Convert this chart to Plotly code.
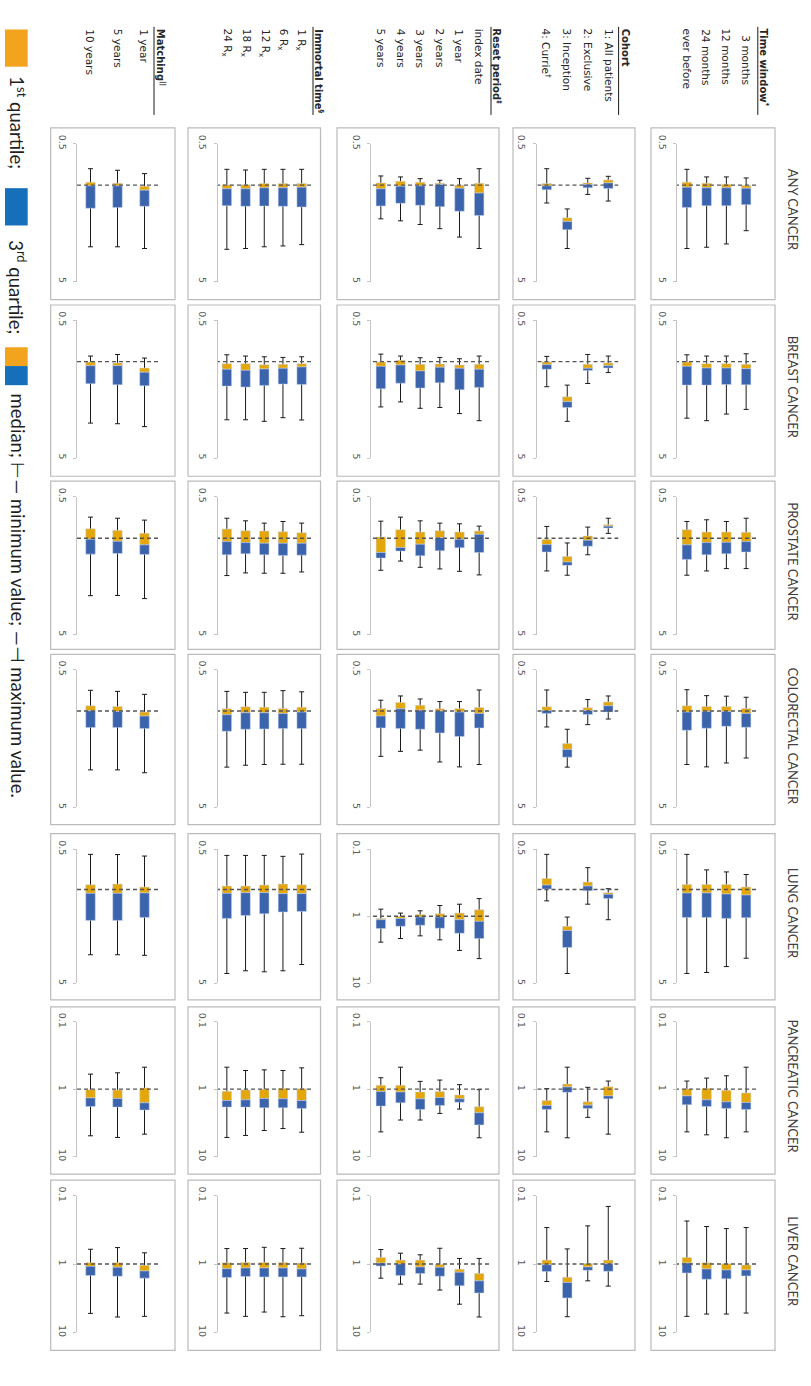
import math
import plotly.graph_objects as go

# ---------------------------------------------------------------------------
# Hazard ratios summarised across analysis variants (min, Q1, median, Q3, max)
# Value order inside every list:
#   time window (4) | cohort (4) | reset period (6) | immortal time (5) | matching (3)
# ---------------------------------------------------------------------------
CANCERS = ["ANY CANCER", "BREAST CANCER", "PROSTATE CANCER", "COLORECTAL CANCER",
           "LUNG CANCER", "PANCREATIC CANCER", "LIVER CANCER"]

GROUP_TITLES = ["Time window<sup>*</sup>", "Cohort", "Reset period<sup>‡</sup>",
                "Immortal time<sup>§</sup>", "Matching<sup>||</sup>"]
TIME_WINDOW = ["\u20073 months", "12 months", "24 months", "ever before"]
COHORT = ["1: All patients", "2: Exclusive", "3: Inception", "4: Currie<sup>†</sup>"]
RESET_PERIOD = ["index date", "1 year", "2 years", "3 years", "4 years", "5 years"]
IMMORTAL_TIME = ["1 R<sub>x</sub>", "6 R<sub>x</sub>", "12 R<sub>x</sub>",
                 "18 R<sub>x</sub>", "24 R<sub>x</sub>"]
MATCHING = ["1 year", "5 years", "10 years"]
GROUP_ITEMS = [TIME_WINDOW, COHORT, RESET_PERIOD, IMMORTAL_TIME, MATCHING]

ANY_MIN = [0.887, 0.872, 0.872, 0.768, 0.863, 0.892, 1.488, 0.760, 0.760, 0.897, 0.922,
           0.897, 0.872, 0.858, 0.768, 0.768, 0.768, 0.777, 0.768, 0.825, 0.780, 0.760]
ANY_Q1 = [1.007, 0.985, 0.968, 0.953, 0.916, 0.963, 1.727, 0.974, 0.968, 1.000, 0.968,
          0.953, 0.937, 0.963, 0.974, 0.974, 0.974, 0.995, 0.995, 1.017, 0.968, 0.953]
ANY_MED = [1.052, 1.046, 1.046, 1.035, 0.963, 0.990, 1.834, 1.012, 1.142, 1.052, 0.990,
           1.012, 1.017, 1.063, 1.035, 1.046, 1.046, 1.063, 1.063, 1.087, 1.012, 1.012]
ANY_Q3 = [1.385, 1.409, 1.409, 1.455, 1.058, 1.046, 2.105, 1.082, 1.660, 1.547, 1.432,
          1.401, 1.355, 1.416, 1.440, 1.424, 1.417, 1.424, 1.409, 1.424, 1.455, 1.472]
ANY_MAX = [2.14, 2.67, 2.82, 2.88, 1.304, 1.167, 2.88, 1.348, 2.88, 2.38, 2.07,
           1.93, 1.815, 1.756, 2.70, 2.76, 2.80, 2.88, 2.92, 2.88, 2.80, 2.80]

BREAST_MIN = [0.877, 0.911, 0.911, 0.892, 0.911, 0.887, 1.480, 0.916, 0.911, 0.953, 0.932,
              0.937, 0.911, 0.882, 0.922, 0.932, 0.922, 0.911, 0.892, 0.942, 0.887, 0.911]
BREAST_Q1 = [1.046, 1.035, 1.035, 1.007, 1.023, 1.046, 1.800, 1.007, 1.046, 1.058, 1.040,
             1.046, 0.979, 1.007, 1.035, 1.046, 1.052, 1.035, 1.035, 1.112, 1.023, 1.007]
BREAST_MED = [1.124, 1.112, 1.112, 1.082, 1.070, 1.117, 1.950, 1.052, 1.136, 1.117, 1.099,
              1.167, 1.058, 1.082, 1.093, 1.117, 1.130, 1.155, 1.136, 1.194, 1.070, 1.070]
BREAST_Q3 = [1.472, 1.464, 1.480, 1.480, 1.112, 1.161, 2.150, 1.136, 1.538, 1.600, 1.424,
             1.556, 1.432, 1.573, 1.464, 1.455, 1.488, 1.530, 1.505, 1.497, 1.472, 1.447]
BREAST_MAX = [2.22, 2.40, 2.68, 2.57, 1.20, 1.44, 2.71, 1.52, 2.68, 2.38, 2.15,
              2.18, 1.96, 2.13, 2.65, 2.55, 2.71, 2.64, 2.64, 2.96, 2.82, 2.79]

PROSTATE_MIN = [0.716, 0.756, 0.735, 0.756, 0.716, 0.830, 1.082, 0.821, 0.817, 0.786, 0.777,
                0.748, 0.703, 0.752, 0.777, 0.756, 0.777, 0.748, 0.716, 0.739, 0.716, 0.703]
PROSTATE_Q1 = [0.906, 0.902, 0.902, 0.867, 0.798, 0.963, 1.355, 1.023, 0.887, 0.902, 0.882,
               0.902, 0.867, 0.979, 0.911, 0.897, 0.887, 0.882, 0.858, 0.922, 0.877, 0.853]
PROSTATE_MED = [1.058, 1.070, 1.076, 1.117, 0.817, 1.035, 1.488, 1.112, 0.937, 1.017, 0.990,
                1.105, 1.167, 1.268, 1.087, 1.087, 1.087, 1.076, 1.058, 1.117, 1.052, 1.017]
PROSTATE_Q3 = [1.260, 1.297, 1.318, 1.424, 0.844, 1.142, 1.573, 1.260, 1.268, 1.174, 1.234,
               1.340, 1.240, 1.393, 1.326, 1.333, 1.318, 1.297, 1.318, 1.311, 1.290, 1.304]
PROSTATE_MAX = [1.66, 1.66, 1.727, 1.855, 0.922, 1.318, 1.855, 1.727, 1.845, 1.737, 1.67,
                1.625, 1.464, 1.708, 1.756, 1.795, 1.795, 1.785, 1.865, 2.74, 2.60, 2.61]

COLORECTAL_MIN = [0.794, 0.780, 0.773, 0.700, 0.777, 0.825, 1.355, 0.703, 0.703, 0.853, 0.853,
                  0.817, 0.777, 0.834, 0.725, 0.711, 0.731, 0.731, 0.720, 0.756, 0.720, 0.707]
COLORECTAL_Q1 = [0.958, 0.927, 0.927, 0.916, 0.858, 0.947, 1.718, 0.932, 0.942, 0.958, 0.963,
                 0.906, 0.867, 0.958, 0.937, 0.958, 0.937, 0.932, 0.963, 1.017, 0.927, 0.916]
COLORECTAL_MED = [1.040, 1.007, 1.007, 1.017, 0.916, 0.990, 1.897, 0.990, 1.040, 1.017, 1.000,
                  0.985, 0.963, 1.087, 1.017, 1.040, 1.029, 1.029, 1.063, 1.087, 1.007, 0.995]
COLORECTAL_Q3 = [1.311, 1.290, 1.333, 1.378, 1.017, 1.058, 2.160, 1.040, 1.326, 1.530, 1.440,
                 1.355, 1.340, 1.326, 1.340, 1.340, 1.348, 1.355, 1.401, 1.340, 1.318, 1.318]
COLORECTAL_MAX = [2.19, 2.38, 2.54, 2.44, 1.142, 1.254, 2.55, 1.304, 2.44, 2.54, 2.34,
                  1.92, 1.96, 2.13, 2.43, 2.43, 2.44, 2.47, 2.55, 2.80, 2.67, 2.67]

LUNG_MIN = [0.773, 0.739, 0.714, 0.547, 0.986, 0.687, 1.604, 0.547, 0.546, 0.662, 0.692,
            0.830, 0.898, 0.784, 0.544, 0.566, 0.557, 0.557, 0.557, 0.563, 0.549, 0.547]
LUNG_Q1 = [0.958, 0.916, 0.916, 0.916, 1.055, 0.880, 1.879, 0.827, 0.802, 0.898, 0.919,
           0.940, 1.006, 1.076, 0.921, 0.911, 0.927, 0.942, 0.942, 0.958, 0.911, 0.921]
LUNG_MED = [1.098, 1.080, 1.061, 1.061, 1.086, 0.942, 2.020, 0.927, 1.192, 1.126, 1.029,
            1.029, 1.076, 1.126, 1.073, 1.073, 1.055, 1.055, 1.067, 1.061, 1.067, 1.067]
LUNG_Q3 = [1.620, 1.640, 1.613, 1.613, 1.168, 1.020, 2.700, 0.991, 2.150, 1.790, 1.511,
           1.365, 1.413, 1.529, 1.457, 1.470, 1.515, 1.560, 1.640, 1.613, 1.700, 1.700]
LUNG_MAX = [3.25, 3.75, 4.15, 4.22, 1.678, 1.286, 4.22, 1.215, 4.28, 3.23, 2.25,
            1.96, 2.15, 2.43, 3.62, 4.03, 4.10, 4.03, 4.22, 3.09, 3.06, 3.06]

PANCREATIC_MIN = [0.473, 0.634, 0.686, 0.759, 0.759, 0.940, 0.473, 0.983, 1.017, 0.859, 0.734,
                  0.767, 0.473, 0.678, 0.484, 0.529, 0.518, 0.529, 0.473, 0.473, 0.573, 0.599]
PANCREATIC_Q1 = [1.138, 1.040, 0.972, 0.994, 0.919, 1.543, 0.840, 1.475, 1.826, 1.218, 1.088,
                 1.100, 0.878, 0.878, 0.983, 0.972, 1.006, 1.028, 1.076, 0.961, 1.028, 1.017]
PANCREATIC_MED = [1.578, 1.543, 1.442, 1.260, 1.260, 1.727, 0.929, 1.746, 2.240, 1.394, 1.333,
                  1.394, 1.100, 1.088, 1.475, 1.394, 1.379, 1.442, 1.475, 1.595, 1.379, 1.348]
PANCREATIC_Q3 = [2.000, 1.930, 1.806, 1.707, 1.394, 1.930, 1.113, 2.000, 3.390, 1.560, 1.746,
                 2.000, 1.595, 1.785, 1.930, 1.890, 1.890, 1.848, 1.848, 2.040, 1.848, 1.806]
PANCREATIC_MAX = [4.30, 5.26, 4.76, 4.30, 4.65, 2.62, 5.26, 4.30, 5.26, 1.976, 2.29,
                  2.87, 2.87, 4.30, 4.35, 3.84, 4.11, 4.86, 5.20, 4.65, 5.20, 4.92]

LIVER_MIN = [0.293, 0.303, 0.283, 0.235, 0.144, 0.277, 0.601, 0.293, 0.828, 0.828, 0.588,
             0.733, 0.694, 0.614, 0.588, 0.594, 0.569, 0.594, 0.594, 0.686, 0.575, 0.608]
LIVER_Q1 = [1.034, 0.989, 0.957, 0.801, 0.876, 0.978, 1.557, 0.876, 1.379, 1.194, 1.011,
            0.876, 0.876, 0.801, 0.967, 0.946, 0.946, 0.946, 0.957, 1.045, 0.957, 0.957]
LIVER_MED = [1.220, 1.220, 1.181, 0.967, 0.989, 1.105, 1.859, 1.022, 1.759, 1.319, 1.117,
             1.105, 1.000, 0.967, 1.181, 1.142, 1.142, 1.142, 1.168, 1.262, 1.117, 1.081]
LIVER_Q3 = [1.490, 1.646, 1.664, 1.349, 1.276, 1.234, 3.130, 1.290, 2.650, 2.080, 1.506,
            1.379, 1.473, 1.069, 1.540, 1.540, 1.540, 1.523, 1.574, 1.610, 1.506, 1.473]
LIVER_MAX = [5.20, 5.38, 5.38, 5.81, 2.10, 1.759, 5.88, 1.80, 5.94, 3.86, 2.40,
             1.965, 1.965, 1.61, 5.69, 5.88, 5.03, 5.81, 5.20, 5.81, 5.94, 5.26]

SERIES = [
    (ANY_MIN, ANY_Q1, ANY_MED, ANY_Q3, ANY_MAX),
    (BREAST_MIN, BREAST_Q1, BREAST_MED, BREAST_Q3, BREAST_MAX),
    (PROSTATE_MIN, PROSTATE_Q1, PROSTATE_MED, PROSTATE_Q3, PROSTATE_MAX),
    (COLORECTAL_MIN, COLORECTAL_Q1, COLORECTAL_MED, COLORECTAL_Q3, COLORECTAL_MAX),
    (LUNG_MIN, LUNG_Q1, LUNG_MED, LUNG_Q3, LUNG_MAX),
    (PANCREATIC_MIN, PANCREATIC_Q1, PANCREATIC_MED, PANCREATIC_Q3, PANCREATIC_MAX),
    (LIVER_MIN, LIVER_Q1, LIVER_MED, LIVER_Q3, LIVER_MAX),
]

# axis scale per panel: "n" = 0.5 to 5, "w" = 0.1 to 10
SCALES = [
    "nnnnn",
    "nnnnn",
    "nnnnn",
    "nnnnn",
    "nnwnn",
    "wwwww",
    "wwwww",
]
SCALE_DEF = {
    "n": (0.5, 5.0, [0.5, 5], ["0.5", "5"]),
    "w": (0.1, 10.0, [0.1, 1, 10], ["0.1", "1", "10"]),
}

# ---------------------------------------------------------------------------
# page geometry (pixels)
# ---------------------------------------------------------------------------
W, H = 811, 1386
COL_BORDER = [(651, 775), (513, 635), (337, 499), (188, 320.5), (50.7, 175)]
COL_PLOT = [(677, 756), (536.5, 618.5), (371, 489), (217.5, 311), (77, 158)]
ROW_BORDER = [(120, 293.5), (299, 472), (477, 647), (652, 824),
              (833, 1001), (1008, 1177), (1183, 1355)]
ROW_PLOT = [(136, 275.3), (314.3, 453.6), (492.7, 632), (667.3, 806.6),
            (848.7, 984.3), (1023, 1159.3), (1198.7, 1337)]
HEADER_LINE_X = [757.8, 618.6, 491, 313, 154]

BOX_PX = 9.5
ORANGE = "#E4A70B"
BLUE = "#3B64AD"
BOX_EDGE = "#C9D6EE"
FRAME = "#BBBBBB"
AXIS = "#C4C4C4"
TEXT = "#262626"


def fx(v):
    return v / W


def fy(v):
    return 1 - v / H


fig = go.Figure()
layout = {}
shapes = []
annotations = []

sizes = [len(items) for items in GROUP_ITEMS]
starts = [sum(sizes[:g]) for g in range(len(sizes))]

k = 0
for r, cancer in enumerate(CANCERS):
    mins, q1s, meds, q3s, maxs = SERIES[r]
    for g in range(len(GROUP_ITEMS)):
        k += 1
        xa = "x" if k == 1 else f"x{k}"
        ya = "y" if k == 1 else f"y{k}"
        xkey = "xaxis" if k == 1 else f"xaxis{k}"
        ykey = "yaxis" if k == 1 else f"yaxis{k}"

        n = sizes[g]
        s = starts[g]
        pos = list(range(n))
        mn = mins[s:s + n]
        q1 = q1s[s:s + n]
        md = meds[s:s + n]
        q3 = q3s[s:s + n]
        mx = maxs[s:s + n]

        x0, x1 = COL_PLOT[g]
        y0, y1 = ROW_PLOT[r]
        band = (x1 - x0) / n
        bw = BOX_PX / band
        lo, hi, tv, tt = SCALE_DEF[SCALES[r][g]]

        layout[xkey] = dict(domain=[fx(x0), fx(x1)], anchor=ya, range=[n - 0.5, -0.5],
                            visible=False, fixedrange=True)
        layout[ykey] = dict(domain=[fy(y1), fy(y0)], anchor=xa, type="log",
                            range=[math.log10(hi), math.log10(lo)],
                            showline=True, linecolor=AXIS, linewidth=1,
                            ticks="outside", ticklen=3, tickcolor=AXIS, tickwidth=1,
                            tickvals=tv, ticktext=tt, tickangle=90,
                            ticklabelstandoff=3,
                            tickfont=dict(family="DejaVu Sans", size=9.5, color="#595959"),
                            showgrid=False, zeroline=False, fixedrange=True)

        # whiskers (min to max) sit underneath the boxes
        fig.add_trace(go.Bar(
            x=pos, y=[0] * n, base=md, width=bw, xaxis=xa, yaxis=ya,
            marker=dict(color="rgba(0,0,0,0)", line=dict(width=0)),
            error_y=dict(type="data", symmetric=False,
                         array=[b - a for a, b in zip(md, mx)],
                         arrayminus=[a - b for a, b in zip(md, mn)],
                         color="#1A1A1A", thickness=1, width=2.5),
            showlegend=False, hoverinfo="skip"))
        # first quartile to median
        fig.add_trace(go.Bar(
            x=pos, y=[b - a for a, b in zip(q1, md)], base=q1, width=bw,
            xaxis=xa, yaxis=ya,
            marker=dict(color=ORANGE, line=dict(color=BOX_EDGE, width=0.5)),
            showlegend=False, hoverinfo="skip"))
        # median to third quartile
        fig.add_trace(go.Bar(
            x=pos, y=[b - a for a, b in zip(md, q3)], base=md, width=bw,
            xaxis=xa, yaxis=ya,
            marker=dict(color=BLUE, line=dict(color=BOX_EDGE, width=0.5)),
            showlegend=False, hoverinfo="skip"))
        # reference line at HR = 1
        fig.add_trace(go.Scatter(
            x=[-0.5, n - 0.5], y=[1, 1], mode="lines", xaxis=xa, yaxis=ya,
            line=dict(color="#555555", width=1.4, dash="4px,3px"),
            showlegend=False, hoverinfo="skip"))

        bx0, bx1 = COL_BORDER[g]
        by0, by1 = ROW_BORDER[r]
        shapes.append(dict(type="rect", xref="paper", yref="paper",
                           x0=fx(bx0), x1=fx(bx1), y0=fy(by1), y1=fy(by0),
                           line=dict(color=FRAME, width=1.2), layer="below"))

        # scenario labels above the first row of panels
        if r == 0:
            for i, label in enumerate(GROUP_ITEMS[g]):
                annotations.append(dict(
                    x=i, xref=xa, y=fy(18), yref="paper", text=label,
                    textangle=90, showarrow=False, xanchor="center", yanchor="top",
                    font=dict(family="DejaVu Sans", size=10.5, color=TEXT)))

    # cancer name to the right of each row
    cy = (ROW_BORDER[r][0] + ROW_BORDER[r][1]) / 2 - 4
    annotations.append(dict(
        x=fx(793), y=fy(cy), xref="paper", yref="paper", text=cancer,
        textangle=90, showarrow=False, xanchor="center", yanchor="middle",
        font=dict(family="Lato", size=13, color="#404040")))

# group headings with their rule
for g, title in enumerate(GROUP_TITLES):
    lx = HEADER_LINE_X[g]
    annotations.append(dict(
        x=fx(lx + 6.5), y=fy(18), xref="paper", yref="paper", text=f"<b>{title}</b>",
        textangle=90, showarrow=False, xanchor="center", yanchor="top",
        font=dict(family="DejaVu Sans", size=10, color=TEXT)))
    shapes.append(dict(type="line", xref="paper", yref="paper",
                       x0=fx(lx), x1=fx(lx), y0=fy(18), y1=fy(107),
                       line=dict(color="#1A1A1A", width=1)))

# key along the left edge
LEG_ORANGE = "#F2A41E"
LEG_BLUE = "#1570B9"
key_patches = [
    (20.7, 58.3, LEG_ORANGE),
    (181, 218.7, LEG_BLUE),
    (341.7, 360.7, LEG_ORANGE),
    (360.7, 380, LEG_BLUE),
]
for t, b, c in key_patches:
    shapes.append(dict(type="rect", xref="paper", yref="paper",
                       x0=fx(5), x1=fx(27.7), y0=fy(b), y1=fy(t),
                       fillcolor=c, line=dict(width=0)))
key_texts = [
    (66, "1<sup>st</sup> quartile;"),
    (231, "3<sup>rd</sup> quartile;"),
    (386, "median; ⊢— minimum value; —⊣ maximum value."),
]
for top, txt in key_texts:
    annotations.append(dict(
        x=fx(17.5), y=fy(top), xref="paper", yref="paper", text=txt,
        textangle=90, showarrow=False, xanchor="center", yanchor="top",
        font=dict(family="Lato", size=18.5, color="#1F1F1F")))

fig.update_layout(
    width=W, height=H,
    margin=dict(l=0, r=0, t=0, b=0),
    paper_bgcolor="white", plot_bgcolor="rgba(0,0,0,0)",
    barmode="overlay",
    showlegend=False,
    shapes=shapes,
    annotations=annotations,
    **layout,
)

fig.write_html("out.html")
